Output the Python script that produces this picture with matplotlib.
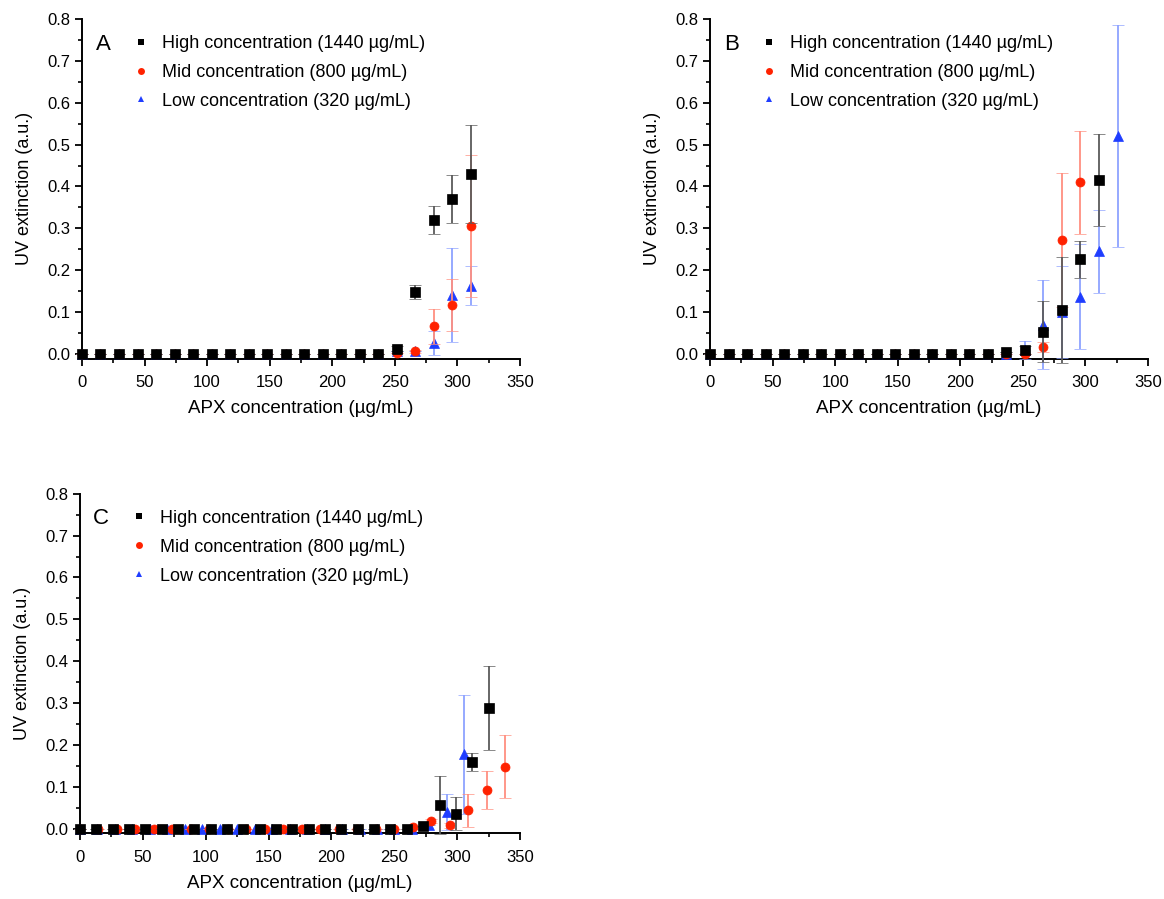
import numpy as np
import matplotlib
matplotlib.use("Agg")
import matplotlib.pyplot as plt
from matplotlib.lines import Line2D
from matplotlib.ticker import MultipleLocator

plt.rcParams["font.family"] = ["Liberation Sans", "DejaVu Sans"]

LABELS = ["High concentration (1440 µg/mL)",
          "Mid concentration (800 µg/mL)",
          "Low concentration (320 µg/mL)"]

# ---- panel A ----
xA = [0, 14.8, 29.6, 44.4, 59.2, 74, 88.8, 103.6, 118.4, 133.2, 148, 162.8,
      177.6, 192.4, 207.2, 222, 236.8, 251.6, 266.4, 281.2, 296, 310.8]
A_high = [0] * 17 + [0.012, 0.148, 0.320, 0.370, 0.430]
A_high_err = [0] * 17 + [0.006, 0.017, 0.033, 0.058, 0.116]
A_mid = [0] * 17 + [0.003, 0.006, 0.066, 0.117, 0.306]
A_mid_err = [0] * 17 + [0.0, 0.004, 0.042, 0.063, 0.170]
A_low = [0] * 17 + [0.008, 0.006, 0.026, 0.140, 0.163]
A_low_err = [0] * 17 + [0.0, 0.0, 0.028, 0.112, 0.047]

# ---- panel B ----
xB = [0, 14.8, 29.6, 44.4, 59.2, 74, 88.8, 103.6, 118.4, 133.2, 148, 162.8,
      177.6, 192.4, 207.2, 222, 236.8, 251.6, 266.4, 281.2, 296, 310.8, 325.6]
B_high = [0] * 16 + [0.004, 0.010, 0.053, 0.105, 0.226, 0.415]
B_high_err = [0] * 16 + [0.0, 0.010, 0.073, 0.126, 0.045, 0.110]
B_mid = [0] * 18 + [0.017, 0.272, 0.410]
B_mid_err = [0] * 18 + [0.012, 0.160, 0.123]
B_low = [0] * 17 + [0.010, 0.070, 0.100, 0.137, 0.245, 0.520]
B_low_err = [0] * 17 + [0.022, 0.106, 0.110, 0.125, 0.100, 0.265]

# ---- panel C ----
xC_high = [0, 13, 26, 39, 52, 65, 78, 91, 104, 117, 130, 143, 156, 169, 182,
           195, 208, 221, 234, 247, 260, 273, 286, 299, 312, 325]
C_high = [0] * 21 + [0.006, 0.057, 0.036, 0.160, 0.288]
C_high_err = [0] * 21 + [0.0, 0.070, 0.040, 0.022, 0.100]
xC_mid = [0, 14.7, 29.4, 44.1, 58.8, 73.5, 88.2, 102.9, 117.6, 132.3, 147,
          161.7, 176.4, 191.1, 205.8, 220.5, 235.2, 249.9, 264.6, 279.3, 294,
          308.7, 323.4, 338.1]
C_mid = [0] * 18 + [0.005, 0.018, 0.008, 0.044, 0.093, 0.148]
C_mid_err = [0] * 18 + [0.0, 0.005, 0.005, 0.040, 0.045, 0.075]
xC_low = [0, 13.9, 27.8, 41.7, 55.6, 69.5, 83.4, 97.3, 111.2, 125.1, 139,
          152.9, 166.8, 180.7, 194.6, 208.5, 222.4, 236.3, 250.2, 264.1, 278,
          291.9, 305.8]
C_low = [0] * 20 + [0.010, 0.040, 0.178]
C_low_err = [0] * 20 + [0.0, 0.044, 0.142]

# marker colour, error-bar colour, marker, size
STYLE = {
    "high": ("#000000", "#5a5a5a", "s", 7),
    "mid": ("#ff2200", "#ff8f80", "o", 6.5),
    "low": ("#1f3dff", "#8ea3ff", "^", 6.5),
}
ZORD = {"low": 3, "mid": 4, "high": 5}


def draw_series(ax, x, y, err, key):
    c, ec, m, ms = STYLE[key]
    ax.errorbar(x, y, yerr=err, fmt=m, color=c, ms=ms, mec=c, ecolor=ec,
                elinewidth=1.3, capsize=4, capthick=1.3, mew=0.5,
                zorder=ZORD[key], clip_on=False)


def style_axes(ax, letter):
    ax.set_xlim(0, 350)
    ax.set_ylim(-0.011, 0.8)
    for s in ("top", "right"):
        ax.spines[s].set_visible(False)
    for s in ("left", "bottom"):
        ax.spines[s].set_linewidth(1.4)
    ax.xaxis.set_major_locator(MultipleLocator(50))
    ax.xaxis.set_minor_locator(MultipleLocator(25))
    ax.yaxis.set_minor_locator(MultipleLocator(0.05))
    ax.set_yticks(np.arange(0, 0.81, 0.1))
    ax.set_yticklabels([f"{v:.1f}" for v in np.arange(0, 0.81, 0.1)])
    ax.tick_params(which="major", direction="out", length=5, width=1.3,
                   labelsize=12)
    ax.tick_params(axis="x", which="major", pad=7)
    ax.tick_params(which="minor", direction="out", length=3, width=1.2)
    ax.set_xlabel("APX concentration (µg/mL)", fontsize=13.5, labelpad=7)
    ax.set_ylabel("UV extinction (a.u.)", fontsize=13, labelpad=10)
    ax.text(0.048, 0.926, letter, transform=ax.transAxes, fontsize=16,
            ha="center", va="center")
    handles = [Line2D([], [], ls="none", marker=STYLE[k][2], color=STYLE[k][0],
                      ms=5, mew=0) for k in ("high", "mid", "low")]
    ax.legend(handles, LABELS, loc="upper left", bbox_to_anchor=(0.114, 0.953),
              frameon=False, fontsize=13, handlelength=1.0,
              handletextpad=0.65, labelspacing=0.66, borderaxespad=0,
              borderpad=0)


fig = plt.figure(figsize=(11.64, 8.99), dpi=100)
axA = fig.add_axes([0.0704, 0.6011, 0.3763, 0.3778])
axB = fig.add_axes([0.6100, 0.6011, 0.3763, 0.3778])
axC = fig.add_axes([0.0687, 0.0730, 0.3780, 0.3778])

for ax, series, letter in [
    (axA, [(xA, A_mid, A_mid_err, "mid"), (xA, A_low, A_low_err, "low"),
           (xA, A_high, A_high_err, "high")], "A"),
    (axB, [(xB[:21], B_mid, B_mid_err, "mid"), (xB, B_low, B_low_err, "low"),
           (xB[:22], B_high, B_high_err, "high")], "B"),
    (axC, [(xC_mid, C_mid, C_mid_err, "mid"), (xC_low, C_low, C_low_err, "low"),
           (xC_high, C_high, C_high_err, "high")], "C"),
]:
    for x, y, e, k in series:
        draw_series(ax, x, y, e, k)
    style_axes(ax, letter)

fig.savefig("out.png", dpi=100)
